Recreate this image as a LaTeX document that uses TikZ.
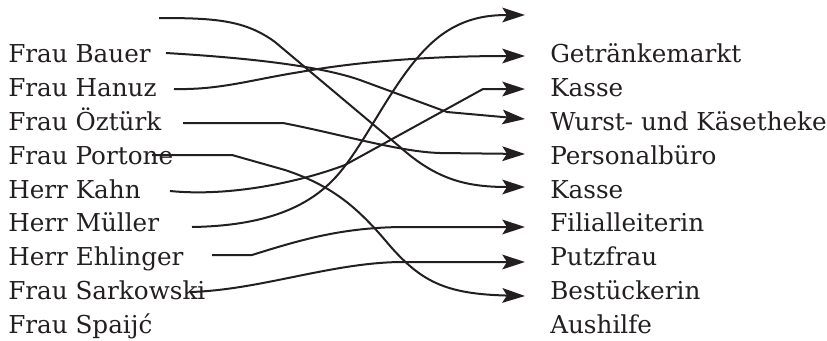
\documentclass[tikz,border=0pt]{standalone}
\usepackage{fontspec}
\setmainfont{DejaVu Serif}
\usetikzlibrary{arrows.meta}
\definecolor{ink}{RGB}{35,31,32}
\begin{document}
\begin{tikzpicture}[x=0.75pt,y=-0.75pt,
  lbl/.style={anchor=base west,inner sep=0pt,text=ink,font=\fontsize{18.5}{22}\selectfont},
  conn/.style={draw=ink,line width=1.5pt,-{Stealth[length=17pt,width=11pt,inset=3.5pt]}}]
\useasboundingbox (0,0) rectangle (827,340);
% left labels
\node[lbl] (L1) at (8,62.7) {Frau Bauer};
\node[lbl] (L2) at (8,96.55) {Frau Hanuz};
\node[lbl] (L3) at (8,130.4) {Frau Öztürk};
\node[lbl] (L4) at (8,164.25) {Frau Portone};
\node[lbl] (L5) at (8,198.1) {Herr Kahn};
\node[lbl] (L6) at (8,231.95) {Herr Müller};
\node[lbl] (L7) at (8,265.8) {Herr Ehlinger};
\node[lbl] (L8) at (8,299.65) {Frau Sarkowski};
\node[lbl] (L9) at (8,333.5) {Frau Spaijć};
% right labels
\node[lbl] (R1) at (550,62.7) {Getränkemarkt};
\node[lbl] (R2) at (550,96.55) {Kasse};
\node[lbl] (R3) at (550,130.4) {Wurst- und Käsetheke};
\node[lbl] (R4) at (550,164.25) {Personalbüro};
\node[lbl] (R5) at (550,198.1) {Kasse};
\node[lbl] (R6) at (550,231.95) {Filialleiterin};
\node[lbl] (R7) at (550,265.8) {Putzfrau};
\node[lbl] (R8) at (550,299.65) {Bestückerin};
\node[lbl] (R9) at (550,333.5) {Aushilfe};
% start points
\coordinate (s0) at (159,18);
\coordinate (s1) at (166,53);
\coordinate (s2) at (174,89);
\coordinate (s3) at (183,123);
\coordinate (s4) at (152,155);
\coordinate (s5) at (170,191);
\coordinate (s6) at (192,227);
\coordinate (s7) at (212,255);
\coordinate (s8) at (190,292);
% end points (arrow tips)
\coordinate (e0) at (525,15);
\coordinate (e1) at (525,56);
\coordinate (e2) at (525,119);
\coordinate (e3) at (525,154);
\coordinate (e4) at (525,89);
\coordinate (e5) at (525,187);
\coordinate (e6) at (525,227);
\coordinate (e7) at (525,262);
\coordinate (e8) at (525,296);
% connectors
\draw[conn] (s0) .. controls (215,18) and (245,20) .. (275,42) -- (400,147) .. controls (437,180) and (467,187) .. (e5);
\draw[conn] (s1) .. controls (250,58) and (320,66) .. (360,80) -- (447,112) -- (e2);
\draw[conn] (s2) .. controls (220,90) and (250,80) .. (300,72) .. controls (350,63) and (420,56) .. (e1);
\draw[conn] (s3) -- (283,123) .. controls (340,134) and (400,152) .. (440,153) -- (e3);
\draw[conn] (s4) -- (232,155) -- (285,170) .. controls (330,185) and (355,205) .. (385,240) .. controls (420,282) and (445,294) .. (e8);
\draw[conn] (s5) .. controls (230,197) and (300,182) .. (345,165) -- (483,89) -- (e4);
\draw[conn] (s6) .. controls (255,226) and (300,212) .. (330,183) .. controls (365,150) and (395,70) .. (440,36) .. controls (465,17) and (490,15) .. (e0);
\draw[conn] (s7) -- (252,255) .. controls (300,240) and (340,228) .. (400,227) -- (e6);
\draw[conn] (s8) .. controls (260,290) and (330,263) .. (400,262) -- (e7);
\end{tikzpicture}
\end{document}
